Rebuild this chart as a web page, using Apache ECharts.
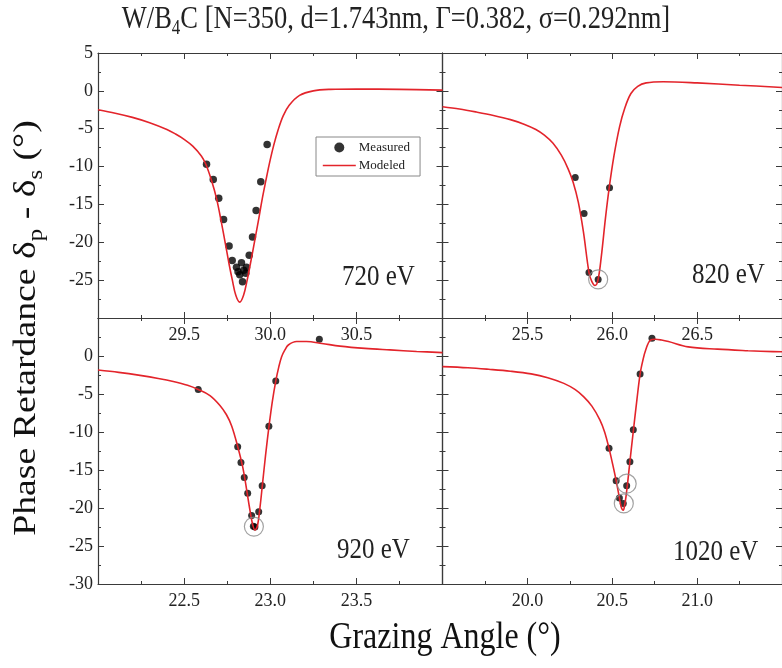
<!DOCTYPE html>
<html><head><meta charset="utf-8">
<script src="https://cdn.jsdelivr.net/npm/echarts@6/dist/echarts.min.js"></script>
<style>html,body{margin:0;padding:0;background:#fff}#c{width:782px;height:668px}</style>
</head><body><div id="c"></div>
<script>
// ---------- data ----------
const panelLabels = ['720 eV', '820 eV', '920 eV', '1020 eV'];
const xMins = [29.0, 25.0, 22.0, 19.5];
const xMaxs = [31.0, 27.0, 24.0, 21.5];
const yMin = -30, yMax = 5, yStep = 5, xStep = 0.5;

const modeled720 = [[29.0,-2.5],[29.1,-2.95],[29.2,-3.5],[29.3,-4.2],[29.4,-5.1],[29.45,-5.7],[29.5,-6.4],[29.55,-7.3],[29.6,-8.6],[29.626,-9.7],[29.66,-11.9],[29.688,-14.2],[29.715,-17.2],[29.742,-20.5],[29.762,-23.0],[29.78,-25.0],[29.8,-27.0],[29.823,-27.9],[29.845,-27.0],[29.866,-25.0],[29.885,-22.8],[29.904,-20.5],[29.93,-17.3],[29.954,-14.2],[29.975,-11.8],[29.994,-9.7],[30.02,-7.2],[30.045,-5.2],[30.075,-3.3],[30.11,-1.9],[30.17,-0.6],[30.25,0.0],[30.35,0.2],[30.5,0.25],[30.75,0.2],[31.0,0.1]];
const measured720 = [[29.630,-9.7],[29.669,-11.7],[29.701,-14.2],[29.729,-17.0],[29.761,-20.5],[29.779,-22.4],[29.804,-23.3],[29.813,-23.9],[29.823,-24.3],[29.833,-22.7],[29.839,-25.2],[29.846,-23.7],[29.858,-24.1],[29.862,-23.3],[29.878,-21.7],[29.897,-19.3],[29.918,-15.8],[29.945,-12.0],[29.982,-7.1]];
const circled720 = [];

const modeled820 = [[25.0,-2.1],[25.1,-2.4],[25.2,-2.8],[25.3,-3.25],[25.4,-3.8],[25.48,-4.4],[25.55,-5.1],[25.6,-5.85],[25.65,-6.9],[25.7,-8.5],[25.74,-10.3],[25.77,-12.1],[25.8,-14.7],[25.83,-18.6],[25.863,-24.0],[25.88,-25.2],[25.898,-25.7],[25.915,-25.1],[25.935,-22.0],[25.96,-16.8],[25.982,-12.8],[26.01,-8.6],[26.043,-4.75],[26.075,-2.2],[26.11,-0.35],[26.15,0.6],[26.2,1.05],[26.3,1.2],[26.5,1.05],[26.75,0.75],[27.0,0.45]];
const measured820 = [[25.782,-11.45],[25.834,-16.2],[25.863,-24.0],[25.917,-24.9],[25.984,-12.8]];
const circled820 = [[25.917,-24.9]];

const modeled920 = [[22.0,-1.84],[22.12,-2.15],[22.244,-2.55],[22.35,-2.95],[22.437,-3.35],[22.52,-3.85],[22.582,-4.4],[22.65,-5.2],[22.708,-6.5],[22.745,-7.7],[22.776,-9.2],[22.811,-11.9],[22.84,-14.6],[22.863,-17.6],[22.88,-20.0],[22.896,-22.0],[22.911,-22.9],[22.925,-22.4],[22.94,-20.0],[22.954,-17.06],[22.973,-13.0],[22.993,-9.2],[23.012,-6.0],[23.032,-3.3],[23.05,-1.4],[23.066,-0.1],[23.085,0.8],[23.105,1.45],[23.153,1.9],[23.21,1.9],[23.3,1.65],[23.405,1.3],[23.55,1.0],[23.695,0.8],[23.85,0.6],[24.0,0.45]];
const measured920 = [[22.582,-4.4],[22.811,-11.95],[22.830,-14.0],[22.849,-16.0],[22.869,-18.05],[22.892,-21.0],[22.902,-22.4],[22.911,-22.5],[22.933,-20.5],[22.953,-17.06],[22.992,-9.25],[23.032,-3.3],[23.285,2.2]];
const circled920 = [[22.905,-22.45]];

const modeled1020 = [[19.5,-1.4],[19.65,-1.55],[19.772,-1.75],[19.9,-2.0],[20.022,-2.35],[20.12,-2.85],[20.215,-3.6],[20.28,-4.4],[20.331,-5.35],[20.38,-6.6],[20.427,-8.4],[20.455,-10.0],[20.481,-12.15],[20.503,-14.3],[20.523,-16.4],[20.54,-18.4],[20.552,-19.8],[20.565,-20.3],[20.573,-19.6],[20.581,-18.5],[20.593,-16.2],[20.604,-13.9],[20.625,-9.7],[20.645,-5.8],[20.664,-2.37],[20.68,-0.6],[20.697,0.8],[20.725,2.1],[20.754,2.2],[20.79,2.1],[20.831,1.9],[20.947,1.2],[21.12,0.9],[21.3,0.7],[21.448,0.57],[21.5,0.55]];
const measured1020 = [[20.481,-12.15],[20.523,-16.4],[20.542,-18.7],[20.565,-19.4],[20.585,-17.06],[20.604,-13.9],[20.624,-9.7],[20.664,-2.37],[20.734,2.33]];
const circled1020 = [[20.585,-16.8],[20.568,-19.4]];

const modeledSets = [modeled720, modeled820, modeled920, modeled1020];
const measuredSets = [measured720, measured820, measured920, measured1020];
const circledSets = [circled720, circled820, circled920, circled1020];

// ---------- layout ----------
const FONT = 'Liberation Serif';
const AX = '#3a3a3a';
const tickRich = {t: {fontFamily: FONT, fontSize: 18, color: '#222'}};
const grids = [
  {left: 98, top: 53, width: 344.5, height: 265},
  {left: 442.5, top: 53, width: 346, height: 265},
  {left: 98, top: 318, width: 344.5, height: 266},
  {left: 442.5, top: 318, width: 346, height: 266}
];

const xAxes = [], yAxes = [], series = [];
grids.forEach((g, i) => {
  const isLeft = (i % 2 === 0), isTop = i < 2;
  const xCommon = {
    type: 'value', gridIndex: i, min: xMins[i], max: xMaxs[i], interval: xStep,
    splitLine: {show: false},
    axisLine: {show: true, onZero: false, lineStyle: {color: AX, width: 1.2}},
    axisTick: {show: true, inside: true, length: 6, lineStyle: {color: AX}},
    minorTick: {show: true, splitNumber: 2, length: 3, lineStyle: {color: AX}}
  };
  xAxes.push(Object.assign({}, xCommon, {
    position: 'bottom',
    axisLabel: {show: true, showMinLabel: false, showMaxLabel: false, margin: 8,
      formatter: v => '{t|' + v.toFixed(1) + '}', rich: tickRich,
      fontFamily: FONT, fontSize: 18, color: '#222'}
  }));
  xAxes.push(Object.assign({}, xCommon, {position: 'top', axisLabel: {show: false}}));
  const yCommon = {
    type: 'value', gridIndex: i, min: yMin, max: yMax, interval: yStep,
    splitLine: {show: false},
    axisLine: {show: true, onZero: false, lineStyle: {color: AX, width: 1.2}},
    axisTick: {show: true, inside: true, length: 6, lineStyle: {color: AX}},
    minorTick: {show: true, splitNumber: 2, length: 3, lineStyle: {color: AX}}
  };
  yAxes.push(Object.assign({}, yCommon, {
    position: 'left',
    axisLabel: {show: isLeft, showMinLabel: !isTop, showMaxLabel: isTop, margin: 5,
      formatter: v => '{t|' + String(v) + '}', rich: tickRich,
      fontFamily: FONT, fontSize: 18, color: '#222'}
  }));
  yAxes.push(Object.assign({}, yCommon, {position: 'right', axisLabel: {show: false}}));

  series.push({
    name: 'Measured', type: 'scatter', xAxisIndex: 2 * i, yAxisIndex: 2 * i,
    data: measuredSets[i], symbol: 'circle', symbolSize: i === 0 ? 7.5 : 7,
    itemStyle: {color: '#000'}, z: 2, silent: true
  });
  series.push({
    name: 'Modeled', type: 'line', xAxisIndex: 2 * i, yAxisIndex: 2 * i,
    data: modeledSets[i], smooth: 0.35, symbol: 'none',
    lineStyle: {color: '#e3242b', width: 1.6}, itemStyle: {color: '#e3242b'}, z: 3, silent: true
  });
  series.push({
    name: 'circ', type: 'scatter', xAxisIndex: 2 * i, yAxisIndex: 2 * i,
    data: circledSets[i], symbol: 'circle', symbolSize: 19,
    itemStyle: {color: 'rgba(0,0,0,0)', borderColor: '#8a8a8a', borderWidth: 1.2}, z: 4, silent: true
  });
});

const labelPos = [[342, 277], [692, 275], [337, 550], [673, 552]];
const graphics = [];
panelLabels.forEach((t, i) => {
  graphics.push({type: 'text', x: labelPos[i][0], y: labelPos[i][1], scaleY: 1.18, z: 10,
    style: {text: t, fontFamily: FONT, fontSize: 25, fill: '#222', textAlign: 'left', textVerticalAlign: 'middle'}});
});
graphics.push({type: 'text', x: 396, y: 20, scaleY: 1.18, z: 10,
  style: {text: 'W/B{s|4}C [N=350, d=1.743nm, Γ=0.382, σ=0.292nm]', fontFamily: FONT, fontSize: 26.5, fill: '#222',
    textAlign: 'center', textVerticalAlign: 'middle',
    rich: {s: {fontFamily: FONT, fontSize: 17, fill: '#222', padding: [14, 0, 0, 0]}}}});
graphics.push({type: 'text', x: 445, y: 638, scaleY: 1.18, z: 10,
  style: {text: 'Grazing Angle (°)', fontFamily: FONT, fontSize: 32, fill: '#111', textAlign: 'center', textVerticalAlign: 'middle'}});
graphics.push({type: 'text', x: 27, y: 328, rotation: Math.PI / 2, scaleX: 1.18, z: 10,
  style: {text: 'Phase Retardance δ{s|p} - δ{s|s} (°)', fontFamily: FONT, fontSize: 32, fill: '#111',
    textAlign: 'center', textVerticalAlign: 'middle',
    rich: {s: {fontFamily: FONT, fontSize: 21, fill: '#111', padding: [18, 0, 0, 0]}}}});

const chart = echarts.init(document.getElementById('c'), null, {renderer: 'canvas'});
chart.setOption({
  backgroundColor: '#fff',
  animation: false,
  textStyle: {fontFamily: FONT},
  grid: grids,
  xAxis: xAxes,
  yAxis: yAxes,
  legend: {
    data: [
      {name: 'Measured', icon: 'circle', itemStyle: {color: '#000'}},
      {name: 'Modeled', itemStyle: {color: 'rgba(0,0,0,0)', borderWidth: 0, opacity: 0}, lineStyle: {color: '#e3242b', width: 1.6}}
    ],
    orient: 'vertical', left: 316, top: 137, itemWidth: 33, itemHeight: 10, itemGap: 5,
    padding: [4, 10, 4, 6], borderColor: '#888', borderWidth: 1, backgroundColor: '#fff',
    selectedMode: false,
    textStyle: {fontFamily: FONT, fontSize: 13, color: '#222', padding: [0, 0, 0, -2]}
  },
  graphic: graphics,
  series: series
});
</script></body></html>
